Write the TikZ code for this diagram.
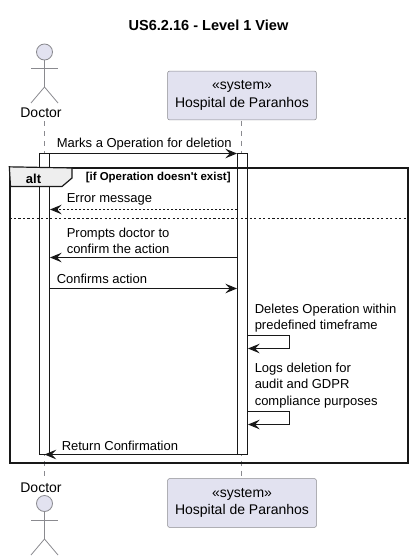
\documentclass[tikz,border=0pt]{standalone}
\usepackage{fontspec}
\setmainfont{Liberation Sans}
\newfontfamily\guardfont{Liberation Sans}
\usetikzlibrary{arrows.meta}
\definecolor{partfill}{HTML}{E2E2F0}
\definecolor{partline}{HTML}{8A8A8F}
\definecolor{ink}{HTML}{181818}
\definecolor{tabfill}{HTML}{EEEEEE}
\tikzset{
  x=0.75pt,y=-0.75pt,
  msgtip/.style={-{Stealth[length=8.8pt,width=7.2pt,inset=3.4pt,color=ink]}},
  msg/.style={draw=ink,line width=0.75pt,msgtip},
  reply/.style={msg,dash pattern=on 1.5pt off 1.5pt},
  life/.style={draw=partline,line width=0.75pt,dash pattern=on 3.75pt off 3.75pt},
  activation/.style={draw=ink,fill=white,line width=0.75pt},
  partbox/.style={draw=partline,fill=partfill,line width=0.4pt,rounded corners=1.6pt,minimum width=111.7pt,minimum height=36.6pt,inner sep=0pt,align=center,font=\fontsize{10.5}{12.9}\selectfont,text=black},
  actorlabel/.style={inner sep=0pt,font=\fontsize{10.5}{12}\selectfont,text=black},
  msglabel/.style={anchor=west,inner sep=0pt,align=left,font=\fontsize{9.75}{12.2}\selectfont,text=black},
  actorline/.style={draw=partline,line width=0.6pt},
  actorhead/.style={circle,draw=partline,fill=partfill,line width=0.6pt,minimum size=12pt,inner sep=0pt},
}
\begin{document}
\begin{tikzpicture}
\useasboundingbox (0,0) rectangle (413,560);
% title
\node[inner sep=0pt,font=\fontsize{10.9}{12}\selectfont\bfseries] (title) at (208.5,25) {US6.2.16 - Level 1 View};
% participants
\node[partbox] (hospT) at (242,95.5) {«system»\\Hospital de Paranhos};
\node[partbox] (hospB) at (242,503) {«system»\\Hospital de Paranhos};
\node[actorlabel] (docT) at (41,113) {Doctor};
\node[actorlabel] (docB) at (41,488) {Doctor};
% lifeline ends
\coordinate (dl1) at (44.5,121);
\coordinate (dl2) at (44.5,476);
\coordinate (hl1) at (241.5,120.5);
\coordinate (hl2) at (241.5,478);
\draw[life] (dl1) -- (dl2);
\draw[life] (hl1) -- (hl2);
% activations
\node[activation,minimum width=7.5pt,minimum height=225.75pt,inner sep=0pt] (actD) at (44.5,304) {};
\node[activation,minimum width=7.5pt,minimum height=225.75pt,inner sep=0pt] (actH) at (242.5,304) {};
% actor top
\node[actorhead] (headT) at (44.5,52) {};
\coordinate (hipT) at (44.5,87);
\draw[actorline] (headT.south) -- (hipT);
\draw[actorline] (31,68) -- (58,68);
\draw[actorline] (31,103) -- (hipT) -- (58,103);
% actor bottom
\node[actorhead] (headB) at (44.5,503.5) {};
\coordinate (hipB) at (44.5,539);
\draw[actorline] (headB.south) -- (hipB);
\draw[actorline] (31,520) -- (58,520);
\draw[actorline] (31,555) -- (hipB) -- (58,555);
% frame
\node[draw=ink,line width=1.5pt,minimum width=298pt,minimum height=221.5pt,inner sep=0pt] (frame) at (209,315.5) {};
\fill[tabfill,draw=ink,line width=0.9pt] (frame.north west) -- (72,168) -- (72,178) -- (62,186.5) -- (10.5,186.5) -- cycle;
\node[inner sep=0pt,font=\fontsize{9.75}{12}\selectfont\bfseries] (alt) at (33.5,179) {alt};
\node[anchor=west,inner sep=0pt,font=\guardfont\fontsize{8.6}{11}\selectfont\bfseries] (guard) at (85.5,178) {[if Operation doesn't exist]};
\coordinate (divL) at (frame.west |- 0,218.5);
\coordinate (divR) at (frame.east |- 0,218.5);
\draw[draw=ink,line width=0.75pt,dash pattern=on 1.7pt off 1.7pt] (divL) -- (divR);
% messages
\coordinate (m1a) at (actD.east |- 0,153.5);
\coordinate (m1b) at (actH.west |- 0,153.5);
\draw[msg] (m1a) -- (m1b);
\node[msglabel] (t1) at (56.5,144.5) {Marks a Operation for deletion};
\coordinate (m2a) at (actH.west |- 0,209.5);
\coordinate (m2b) at (actD.east |- 0,209.5);
\draw[reply] (m2a) -- (m2b);
\node[msglabel] (t2) at (66.5,199.5) {Error message};
\coordinate (m3a) at (actH.west |- 0,257.5);
\coordinate (m3b) at (actD.east |- 0,257.5);
\draw[msg] (m3a) -- (m3b);
\node[msglabel] (t3) at (66.5,240.5) {Prompts doctor to\\confirm the action};
\coordinate (m4a) at (actD.east |- 0,288.5);
\coordinate (m4b) at (actH.west |- 0,288.5);
\draw[msg] (m4a) -- (m4b);
\node[msglabel] (t4) at (56.5,278.5) {Confirms action};
\coordinate (s1a) at (actH.east |- 0,335.5);
\coordinate (s1b) at (actH.east |- 0,348.5);
\draw[msg] (s1a) -- (289.5,335.5) -- (289.5,348.5) -- (s1b);
\node[msglabel] (t5) at (254.5,318) {Deletes Operation within\\predefined timeframe};
\coordinate (s2a) at (actH.east |- 0,411.5);
\coordinate (s2b) at (actH.east |- 0,424.5);
\draw[msg] (s2a) -- (289.5,411.5) -- (289.5,424.5) -- (s2b);
\node[msglabel] (t6) at (254.5,385.5) {Logs deletion for\\audit and GDPR\\compliance purposes};
\coordinate (m7a) at (actH.west |- 0,454.5);
\coordinate (m7b) at (44.5,454.5);
\draw[msg] (m7a) -- (m7b);
\node[msglabel] (t7) at (61.5,445.5) {Return Confirmation};
\end{tikzpicture}
\end{document}
